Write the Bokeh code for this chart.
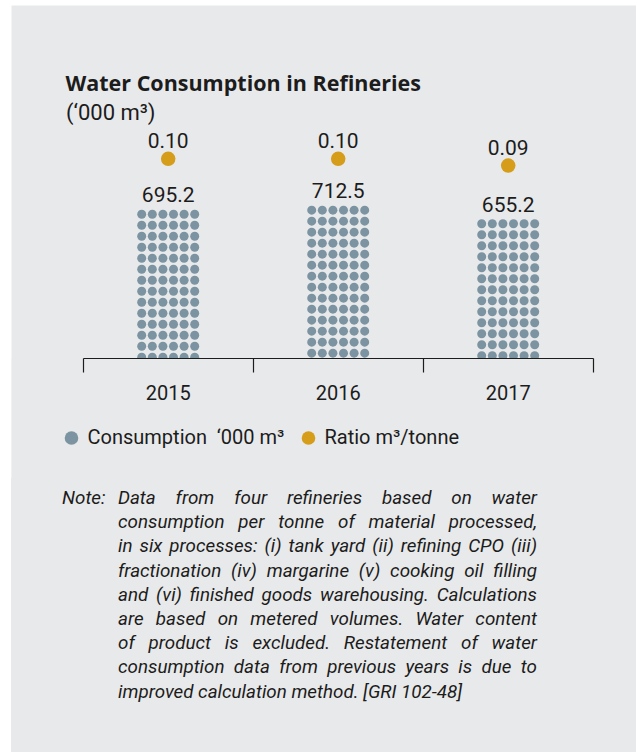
from bokeh.plotting import figure
from bokeh.models import (Range1d, LinearAxis, FixedTicker, Label, Legend, LegendItem,
                          ColumnDataSource, Div)
from bokeh.layouts import column
from bokeh.core.properties import value
from bokeh.embed import file_html
from bokeh.resources import INLINE

# ---------------- data ----------------
years = ["2015", "2016", "2017"]
consumption = [695.2, 712.5, 655.2]        # '000 m3
ratio = [0.10, 0.10, 0.09]                 # m3/tonne
consumption_labels = [f"{v:.1f}" for v in consumption]
ratio_labels = [f"{r:.2f}" for r in ratio]

title_text = "Water Consumption in Refineries"
subtitle_text = "(\u2018000 m\u00b3)"
legend_labels = ["Consumption \u00a0\u2018000 m\u00b3", "Ratio m\u00b3/tonne"]
note_lines = [
    "Data from four refineries based on water",
    "consumption per tonne of material processed,",
    "in six processes: (i) tank yard (ii) refining CPO (iii)",
    "fractionation (iv) margarine (v) cooking oil filling",
    "and (vi) finished goods warehousing. Calculations",
    "are based on metered volumes. Water content",
    "of product is excluded. Restatement of water",
    "consumption data from previous years is due to",
    "improved calculation method. [GRI 102-48]",
]

# ---------------- style / geometry ----------------
BG = "#e8e9ea"
TXT = "#1c1c1c"
DOT_C = "#7c94a1"
GOLD = "#d69d1a"
FONT = "Roboto"

PAGE_W, PAGE_H = 636, 752
W, H = PAGE_W, 478
ML, MT = 11, 5
FRAME_H = H - MT
X0, X1 = -0.4218, 3.2547          # category units (170 px per year)
Y0, Y1 = -438.8, 1557.0           # consumption units
Y_AXIS = 67.5                     # where the baseline axis sits
R0, R1 = -0.37716, 0.32881        # ratio units
CAT_PX = (W - ML) / (X1 - X0)
PX_PER_UNIT = FRAME_H / (Y1 - Y0)
RATIO_PX = FRAME_H / (R1 - R0)
DOT_SIZE = 9
DOT_R = 4.5
ROW_STEP = 11.0
COL_STEP = 10.6
N_COLS = 6
VAL_GAP, RAT_GAP = 15.0, 18.0     # label gaps above the marks, px

# dotted columns derived from the values (rows start at each bar's top)
xs, ys = [], []
for i, v in enumerate(consumption):
    k = 0
    while True:
        yc = v - (DOT_R + k * ROW_STEP) / PX_PER_UNIT
        if yc < Y_AXIS - DOT_R / PX_PER_UNIT:
            break
        for c in range(N_COLS):
            xs.append(i + 0.5 + (c - (N_COLS - 1) / 2) * COL_STEP / CAT_PX)
            ys.append(yc)
        k += 1

centers = [i + 0.5 for i in range(len(years))]
src_val = ColumnDataSource(dict(x=centers, y=consumption,
                                ly=[v + VAL_GAP / PX_PER_UNIT for v in consumption],
                                t=consumption_labels))
src_rat = ColumnDataSource(dict(x=centers, y=ratio,
                                ly=[r + RAT_GAP / RATIO_PX for r in ratio],
                                t=ratio_labels))

p = figure(width=W, height=H, output_backend="svg", toolbar_location=None,
           x_range=Range1d(X0, X1), y_range=Range1d(Y0, Y1),
           x_axis_location=None, y_axis_location=None,
           background_fill_color=BG, border_fill_color="white",
           min_border_left=ML, min_border_right=0, min_border_top=MT, min_border_bottom=0)
p.extra_y_ranges = {"ratio": Range1d(R0, R1)}
p.grid.visible = False
p.outline_line_color = None

r_dots = p.scatter(xs, ys, size=DOT_SIZE, marker="circle", fill_color=DOT_C, line_color=None)
# dots are cut at the baseline, as in the original
p.quad(left=[X0], right=[X1], bottom=[Y0], top=[Y_AXIS], fill_color=BG, line_color=None)

p.text(x="x", y="ly", text="t", source=src_val, text_align="center", text_baseline="alphabetic",
       text_font=value(FONT), text_font_size="21px", text_color=TXT)

r_rat = p.scatter(x="x", y="y", source=src_rat, y_range_name="ratio", size=14.5, marker="circle",
                  fill_color=GOLD, line_color=None)
p.text(x="x", y="ly", text="t", source=src_rat, y_range_name="ratio", text_align="center",
       text_baseline="alphabetic", text_font=value(FONT), text_font_size="21px",
       text_color=TXT)

ax = LinearAxis(ticker=FixedTicker(ticks=centers, minor_ticks=list(range(len(years) + 1))),
                major_label_overrides={c: y for c, y in zip(centers, years)},
                bounds=(0, len(years)), fixed_location=Y_AXIS)
ax.major_tick_out = 0
ax.major_tick_in = 0
ax.minor_tick_out = 14
ax.minor_tick_in = 0
ax.minor_tick_line_color = TXT
ax.minor_tick_line_width = 1.2
ax.axis_line_color = TXT
ax.axis_line_width = 1.2
ax.major_label_standoff = 12
ax.major_label_text_font = FONT
ax.major_label_text_font_size = "20px"
ax.major_label_text_color = TXT
p.add_layout(ax, "below")

p.add_layout(Label(x=54, y=396.2, x_units="screen", y_units="screen", text=title_text,
                   text_font="Open Sans", text_font_size="21.5px", text_font_style="bold",
                   text_color=TXT, text_baseline="alphabetic"))
p.add_layout(Label(x=54.5, y=366, x_units="screen", y_units="screen", text=subtitle_text,
                   text_font=FONT, text_font_size="22px", text_color=TXT,
                   text_baseline="alphabetic"))

legend_style = dict(orientation="horizontal", glyph_width=34, glyph_height=37,
                    label_standoff=0, spacing=0, padding=0, margin=0,
                    background_fill_alpha=0, border_line_color=None,
                    label_text_font=FONT, label_text_font_size="20px",
                    label_text_color=TXT)
p.add_layout(Legend(items=[LegendItem(label=legend_labels[0], renderers=[r_dots])],
                    location=(42.5, 22.2), **legend_style))
p.add_layout(Legend(items=[LegendItem(label=legend_labels[1], renderers=[r_rat])],
                    location=(279.5, 22.2), **legend_style))

lines_html = "".join(
    '<div style="white-space:nowrap;text-align:justify;text-align-last:{};">{}</div>'.format(
        "justify" if i < len(note_lines) - 1 else "left", ln)
    for i, ln in enumerate(note_lines))
note_html = (
    f'<div style="display:flex;font-family:{FONT};font-style:italic;font-size:18.8px;'
    f'line-height:24.2px;color:{TXT};padding:8px 0 0 62px;">'
    f'<div style="width:56px;flex:none;">Note:</div>'
    f'<div style="width:419px;flex:none;">{lines_html}</div></div>')
note = Div(text=note_html, width=PAGE_W, height=PAGE_H - H,
           styles={"background": f"linear-gradient(to right, #ffffff 11px, {BG} 11px)",
                   "margin": "0", "padding": "0"})

layout = column(p, note, spacing=0)
open("out.html", "w").write(file_html(layout, INLINE))
